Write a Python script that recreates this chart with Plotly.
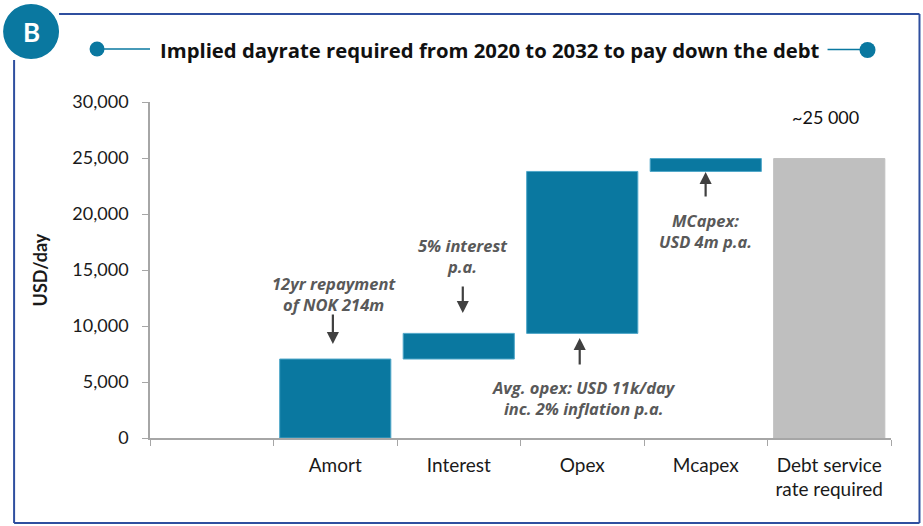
import plotly.graph_objects as go

# ---- data ----
categories = [" ", "Amort", "Interest", "Opex", "Mcapex", "Debt service<br>rate required"]
step_values = [None, 7050, 2290, 14460, 1150, None]
total_value = 24950
y_ticks = [0, 5000, 10000, 15000, 20000, 25000, 30000]
y_tick_labels = ["0", "5,000", "10,000", "15,000", "20,000", "25,000", "30,000"]

# bases for the floating bars
bases, heights = [], []
running = 0
for v in step_values:
    if v is None:
        bases.append(None); heights.append(None)
    else:
        bases.append(running); heights.append(v); running += v
heights[-1] = total_value
bases[-1] = 0

TEAL = "#0A78A0"
GREY = "#BFBFBF"
FRAME = "#2F4F9F"
ANN = "#595959"
FONT = "Lato"
FONT2 = "Open Sans"

W, H = 923, 526
L, R, T, B = 150, 31.5, 102, 88
pw, ph = W - L - R, H - T - B


def px(x):
    return (x - L) / pw


def py(y):
    return (H - B - y) / ph


colors = [TEAL] * 5 + [GREY]
line_colors = ["#4FA7C9"] * 5 + [GREY]

fig = go.Figure(go.Bar(
    x=categories, y=heights, base=bases,
    marker=dict(color=colors, line=dict(color=line_colors, width=1)),
    width=0.9, hoverinfo="skip",
))

fig.update_layout(
    width=W, height=H,
    margin=dict(l=L, r=R, t=T, b=B),
    paper_bgcolor="white", plot_bgcolor="white",
    showlegend=False,
    font=dict(family=FONT, size=17, color="#1a1a1a"),
)
fig.update_xaxes(
    type="category", categoryorder="array", categoryarray=categories,
    showline=True, linecolor="#A6A6A6", linewidth=1.5,
    ticks="outside", ticklen=6, tickcolor="#A6A6A6", tickson="boundaries",
    showgrid=False, tickfont=dict(size=19, family=FONT), ticklabelstandoff=9,
)
fig.update_yaxes(
    range=[0, 30000], tickvals=y_ticks, ticktext=y_tick_labels,
    showline=True, linecolor="#A6A6A6", linewidth=1.5,
    ticks="outside", ticklen=6, tickcolor="#A6A6A6",
    showgrid=False, zeroline=False, ticklabelstandoff=10,
    tickfont=dict(size=18, family=FONT),
    title=dict(text="<b>USD/day</b>", font=dict(size=18, family=FONT), standoff=20),
)

shapes = []
# frame
lw = 2
shapes.append(dict(type="line", xref="paper", yref="paper", x0=px(59), x1=px(920), y0=py(14), y1=py(14), line=dict(color=FRAME, width=lw)))
shapes.append(dict(type="line", xref="paper", yref="paper", x0=px(920), x1=px(920), y0=py(14), y1=py(523), line=dict(color=FRAME, width=lw)))
shapes.append(dict(type="line", xref="paper", yref="paper", x0=px(14), x1=px(920), y0=py(523), y1=py(523), line=dict(color=FRAME, width=lw)))
shapes.append(dict(type="line", xref="paper", yref="paper", x0=px(14), x1=px(14), y0=py(60), y1=py(523), line=dict(color=FRAME, width=lw)))
# B circle
shapes.append(dict(type="circle", xref="paper", yref="paper", x0=px(3), x1=px(59), y0=py(4), y1=py(59), fillcolor=TEAL, line=dict(width=0)))
# title ornaments
shapes.append(dict(type="circle", xref="paper", yref="paper", x0=px(89.5), x1=px(104.5), y0=py(41.5), y1=py(56.5), fillcolor=TEAL, line=dict(width=0)))
shapes.append(dict(type="line", xref="paper", yref="paper", x0=px(104), x1=px(150), y0=py(49), y1=py(49), line=dict(color=TEAL, width=1.5)))
shapes.append(dict(type="line", xref="paper", yref="paper", x0=px(828), x1=px(861), y0=py(49.5), y1=py(49.5), line=dict(color=TEAL, width=1.5)))
shapes.append(dict(type="circle", xref="paper", yref="paper", x0=px(860), x1=px(876), y0=py(42), y1=py(58), fillcolor=TEAL, line=dict(width=0)))
fig.update_layout(shapes=shapes)

anns = []
anns.append(dict(text="<b>B</b>", x=px(31), y=py(32), xref="paper", yref="paper", showarrow=False,
                 font=dict(color="white", size=26, family=FONT), xanchor="center", yanchor="middle"))
anns.append(dict(text="<b>Implied dayrate required from 2020 to 2032 to pay down the debt</b>", x=px(490), y=py(50),
                 xref="paper", yref="paper", showarrow=False, font=dict(size=20.3, family=FONT2, color="#111"),
                 xanchor="center", yanchor="middle"))
anns.append(dict(text="~25 000", x=px(826), y=py(117), xref="paper", yref="paper", showarrow=False,
                 font=dict(size=18, family=FONT, color="#111"), xanchor="center", yanchor="middle"))

ann_font = dict(size=16.5, family=FONT2, color=ANN, style="italic", weight="bold")
texts = [
    ("12yr repayment<br>of NOK 214m", 334, 294),
    ("5% interest<br>p.a.", 463, 256),
    ("Avg. opex: USD 11k/day<br>inc. 2% inflation p.a.", 584, 398),
    ("MCapex:<br>USD 4m p.a.", 706, 231),
]
for t, x, y in texts:
    anns.append(dict(text=t, x=px(x), y=py(y), xref="paper", yref="paper", showarrow=False,
                     font=ann_font, xanchor="center", yanchor="middle"))

arrows = [  # (x, tail_y, tip_y)
    (333, 313, 344),
    (463, 285, 313),
    (580, 366, 338),
    (706, 198, 172),
]
for x, ty, hy in arrows:
    anns.append(dict(text="", x=px(x), y=py(hy), xref="paper", yref="paper",
                     ax=0, ay=ty - hy, axref="pixel", ayref="pixel",
                     showarrow=True, arrowhead=2, arrowsize=1.1, arrowwidth=2.2, arrowcolor="#404040"))
fig.update_layout(annotations=anns)

fig.write_html("out.html")
